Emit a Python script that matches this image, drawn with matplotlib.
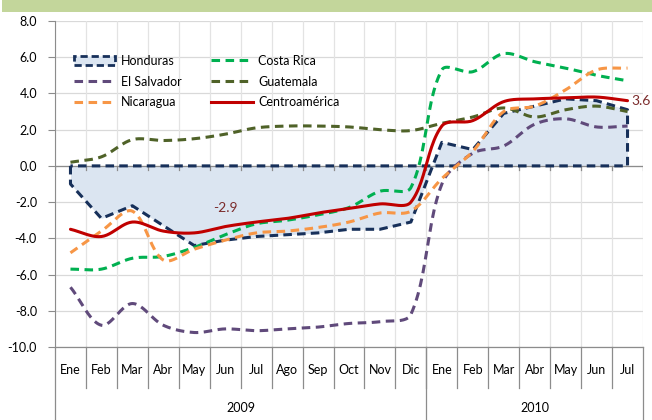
import numpy as np
import matplotlib
matplotlib.use('Agg')
import matplotlib.pyplot as plt
from matplotlib.patches import Rectangle, Patch
from matplotlib.lines import Line2D

plt.rcParams['font.family'] = ['Lato', 'DejaVu Sans']

# ---- data ----
months = ['Ene', 'Feb', 'Mar', 'Abr', 'May', 'Jun', 'Jul', 'Ago', 'Sep', 'Oct', 'Nov', 'Dic',
          'Ene', 'Feb', 'Mar', 'Abr', 'May', 'Jun', 'Jul']
years = ['2009', '2010']
months_per_year = [12, 7]

honduras = [-1.0, -2.9, -2.2, -3.3, -4.4, -4.1, -3.9, -3.8, -3.7, -3.5, -3.5, -3.1,
            1.3, 0.9, 2.9, 3.3, 3.7, 3.6, 3.1]
costa_rica = [-5.7, -5.7, -5.1, -5.0, -4.5, -3.8, -3.2, -3.0, -2.7, -2.3, -1.4, -1.2,
              5.3, 5.2, 6.2, 5.75, 5.4, 5.0, 4.7]
el_salvador = [-6.7, -8.8, -7.6, -8.8, -9.2, -9.0, -9.1, -9.0, -8.9, -8.7, -8.6, -8.2,
               -1.0, 0.7, 1.1, 2.3, 2.6, 2.15, 2.2]
guatemala = [0.2, 0.5, 1.45, 1.4, 1.5, 1.75, 2.1, 2.2, 2.2, 2.15, 2.0, 1.95,
             2.35, 2.7, 3.2, 2.7, 3.1, 3.3, 3.0]
nicaragua = [-4.8, -3.6, -2.5, -5.2, -4.6, -4.1, -3.7, -3.6, -3.4, -3.1, -2.6, -2.5,
             -0.7, 0.8, 3.0, 3.3, 4.2, 5.3, 5.4]
centroamerica = [-3.5, -3.9, -3.1, -3.6, -3.7, -3.35, -3.1, -2.9, -2.6, -2.35, -2.1, -2.0,
                 2.2, 2.5, 3.55, 3.7, 3.75, 3.8, 3.6]

label_pts = [(5, -2.9), (18, 3.6)]  # (category index, shown value)

c_hon = '#17305a'
c_fill = '#dbe5f1'
c_cr = '#00b050'
c_sv = '#604a7b'
c_gt = '#4f6228'
c_ni = '#f79646'
c_ca = '#c00000'

# pixel size of one category / one y unit, used to smooth in screen space
PX_X = 588 / 19
PX_Y = 326 / 18


def smooth(y, n=24, tension=1 / 3):
    # Bezier smoothing with chord-length weighted arms (close to Excel's smoothed lines)
    y = np.asarray(y, float)
    P = np.column_stack([np.arange(len(y)) * PX_X, y * PX_Y])
    m = len(P)
    arm_in = np.zeros_like(P)
    arm_out = np.zeros_like(P)
    for i in range(m):
        p_prev = P[max(i - 1, 0)]
        p_next = P[min(i + 1, m - 1)]
        T = p_next - p_prev
        lp = np.linalg.norm(P[i] - p_prev)
        ln = np.linalg.norm(p_next - P[i])
        tot = lp + ln if lp + ln > 0 else 1
        arm_in[i] = -T * tension * lp / tot
        arm_out[i] = T * tension * ln / tot
    t = np.linspace(0, 1, n, endpoint=False)[:, None]
    out = []
    for i in range(m - 1):
        p1, p2 = P[i], P[i + 1]
        b1 = p1 + arm_out[i]
        b2 = p2 + arm_in[i + 1]
        seg = ((1 - t) ** 3) * p1 + 3 * ((1 - t) ** 2) * t * b1 + 3 * (1 - t) * t ** 2 * b2 + t ** 3 * p2
        out.append(seg)
    out.append(P[-1][None, :])
    out = np.vstack(out)
    return out[:, 0] / PX_X, out[:, 1] / PX_Y


fig = plt.figure(figsize=(6.52, 4.2), dpi=100)
W, H = 652, 420
ax = fig.add_axes([55 / W, 1 - 347 / H, (643 - 55) / W, (347 - 21) / H])

# green band at the top
fig.patches.append(Rectangle((2 / W, 1 - 12 / H), 1, 12 / H, transform=fig.transFigure,
                             facecolor='#c3d69b', edgecolor='none', zorder=0))

n = len(months)
xs = np.arange(n)
ax.set_xlim(-0.5, n - 0.5)
ax.set_ylim(-10, 8)

# grid
for gy in np.arange(-10, 8.1, 2):
    ax.axhline(gy, color='#d9d9d9', lw=0.9, zorder=0)
for gx in np.arange(-0.5, n, 1.0):
    ax.axvline(gx, color='#e3e3e3', lw=0.9, zorder=0)

# Honduras area
ax.fill_between(xs, 0, honduras, color=c_fill, lw=0, zorder=1)
poly_x = np.concatenate([[0], xs, [n - 1, 0]])
poly_y = np.concatenate([[0], honduras, [0, 0]])
ax.axhline(0, color='#8c8c8c', lw=0.9, zorder=1)
ax.plot(poly_x, poly_y, color=c_hon, lw=2.2, dashes=(2.8, 1.7), zorder=2)

dash = (2.8, 1.8)
ax.plot(*smooth(costa_rica), color=c_cr, lw=2.2, dashes=dash, zorder=3)
ax.plot(*smooth(el_salvador), color=c_sv, lw=2.2, dashes=dash, zorder=3)
ax.plot(*smooth(guatemala), color=c_gt, lw=2.2, dashes=dash, zorder=3)
ax.plot(*smooth(nicaragua), color=c_ni, lw=2.2, dashes=dash, zorder=3)
ax.plot(*smooth(centroamerica), color=c_ca, lw=2.2, solid_capstyle='round', zorder=4)

# small ticks on the zero axis
for gx in np.arange(-0.5, n, 1.0):
    ax.plot([gx, gx], [0, -0.22], color='#8c8c8c', lw=0.9, zorder=1)

# data labels
ax.annotate(f'{label_pts[0][1]:.1f}', (label_pts[0][0], centroamerica[label_pts[0][0]]),
            xytext=(0, 9), textcoords='offset points', ha='center', va='bottom',
            fontsize=10, color='#7b2b2b')
ax.annotate(f'{label_pts[1][1]:.1f}', (label_pts[1][0], centroamerica[label_pts[1][0]]),
            xytext=(3, 0), textcoords='offset points', ha='left', va='center',
            fontsize=10, color='#7b2b2b', annotation_clip=False)

# y axis
for s in ['top', 'right', 'bottom']:
    ax.spines[s].set_visible(False)
ax.spines['left'].set_color('#8c8c8c')
ax.spines['left'].set_bounds(-10, 8)
ax.set_yticks(np.arange(-10, 8.1, 2))
ax.set_yticklabels([f'{v:.1f}' for v in np.arange(-10, 8.1, 2)], fontsize=9)
ax.tick_params(axis='y', length=5, color='#8c8c8c', pad=8)
ax.set_xticks([])

# multi-level category axis
tr = ax.get_xaxis_transform()
ah = 347 - 21
ax.plot([-0.5, n - 0.5], [0, 0], transform=tr, color='#8c8c8c', lw=0.9, clip_on=False)
for i, m in enumerate(months):
    ax.text(i, -(370 - 347) / ah, m, transform=tr, ha='center', va='center', fontsize=9)
for gx in np.arange(0.5, n - 1, 1.0):
    ax.plot([gx, gx], [0, -(388 - 347) / ah], transform=tr, color='#8c8c8c', lw=0.9, clip_on=False)
start = 0
bounds = [-0.5]
for yr, cnt in zip(years, months_per_year):
    ax.text(start + (cnt - 1) / 2, -(408 - 347) / ah, yr, transform=tr, ha='center',
            va='center', fontsize=9)
    start += cnt
    bounds.append(start - 0.5)
for b in bounds:
    ax.plot([b, b], [0, -(422 - 347) / ah], transform=tr, color='#8c8c8c', lw=0.9, clip_on=False)

# legend
hnd = [
    Patch(facecolor=c_fill, edgecolor=c_hon, lw=2, linestyle=(0, (2.6, 1.4)), label='Honduras'),
    Line2D([], [], color=c_sv, lw=2.2, dashes=dash, label='El Salvador'),
    Line2D([], [], color=c_ni, lw=2.2, dashes=dash, label='Nicaragua'),
    Line2D([], [], color=c_cr, lw=2.2, dashes=dash, label='Costa Rica'),
    Line2D([], [], color=c_gt, lw=2.2, dashes=dash, label='Guatemala'),
    Line2D([], [], color=c_ca, lw=2.2, label='Centroamérica'),
]
ax.legend(handles=hnd, ncol=2, frameon=False, fontsize=9, loc='upper left',
          bbox_to_anchor=(65 / W, 1 - 46 / H), bbox_transform=fig.transFigure,
          handlelength=3.3, handleheight=0.8, handletextpad=0.45, columnspacing=2.4,
          labelspacing=0.7, borderpad=0.2)

fig.savefig('out.png', dpi=100, facecolor='white')
